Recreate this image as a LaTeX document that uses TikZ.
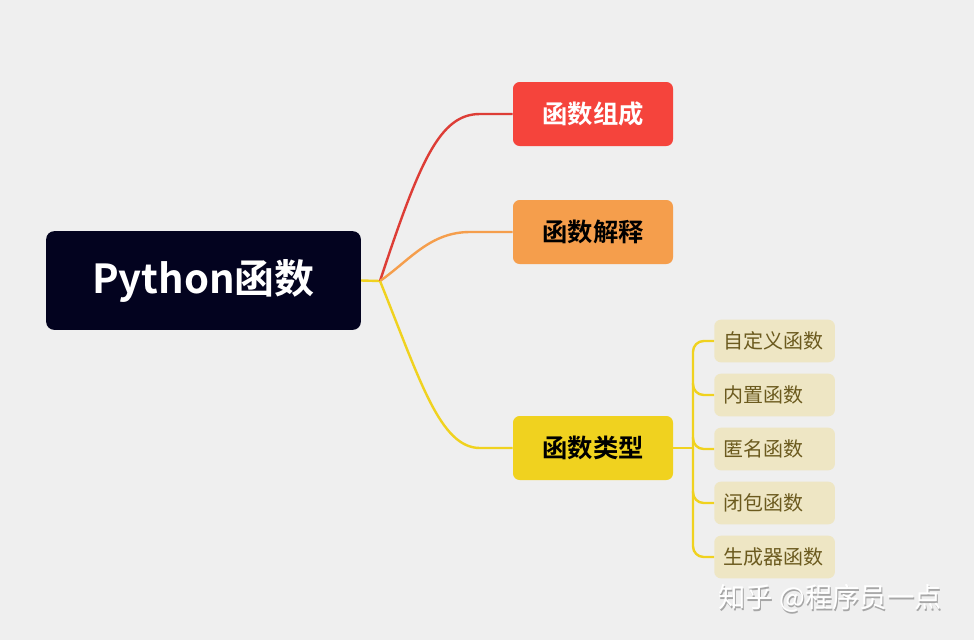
\documentclass[tikz,border=0pt]{standalone}
\usepackage{fontspec}
\setmainfont{Noto Sans CJK SC}[BoldFont={Noto Sans CJK SC Bold}]
\definecolor{bg}{HTML}{EFEFEF}
\definecolor{rootc}{HTML}{03031F}
\definecolor{redc}{HTML}{F5443C}
\definecolor{orc}{HTML}{F59E4C}
\definecolor{yelc}{HTML}{F0D21F}
\definecolor{subc}{HTML}{EEE6C4}
\definecolor{subt}{HTML}{6B5A1E}
\begin{document}
\begin{tikzpicture}[x=0.75pt,y=-0.75pt,
  box/.style={rounded corners=5pt,minimum width=120pt,minimum height=48pt,inner sep=0pt,font=\bfseries\fontsize{19}{22}\selectfont},
  sub/.style={rounded corners=5pt,fill=subc,text=subt,text width=77pt,align=left,inner xsep=6.75pt,minimum height=32pt,inner ysep=0pt,font=\fontsize{15}{18}\selectfont},
  link/.style={line width=1.8pt}]
\fill[bg] (0,0) rectangle (974,640);
\useasboundingbox (0,0) rectangle (974,640);
\node[rounded corners=6pt,fill=rootc,text=white,minimum width=236pt,minimum height=74pt,inner sep=0pt,font=\bfseries\fontsize{30}{34}\selectfont] (root) at (203.5,280.5) {Python函数};
\node[box,fill=redc,text=white] (a) at (593,114) {函数组成};
\node[box,fill=orc] (b) at (593,232) {函数解释};
\node[box,fill=yelc] (c) at (593,448) {函数类型};
\coordinate (j) at (380,281);
\draw[link,yelc] (root.east) -- (j);
\draw[link,redc!90!black] (j) .. controls (420,160) and (440,114) .. (480,114) -- (a.west);
\draw[link,orc] (j) .. controls (410,260) and (430,232) .. (470,232) -- (b.west);
\draw[link,yelc] (j) .. controls (420,380) and (440,448) .. (480,448) -- (c.west);
\coordinate (k) at (693,448);
\draw[link,yelc] (c.east) -- (k);
\foreach \n/\y/\t in {s1/341/自定义函数,s2/395/内置函数,s3/449/匿名函数,s4/503/闭包函数,s5/557/生成器函数}{
  \node[sub,anchor=west] (\n) at (714,\y) {\t};
}
\draw[link,yelc,rounded corners=8pt] (s1.west) -| (k) |- (s5.west);
\foreach \n in {s2,s3,s4}{\draw[link,yelc,rounded corners=8pt] (k |- \n.west) ++(0,-12) |- (\n.west);}
\node[text=gray!70,font=\fontsize{20.5}{24}\selectfont] (wm0) at (831,600) {知乎 @程序员一点};
\node[text=white,font=\fontsize{20.5}{24}\selectfont] (wm) at (830,598.5) {知乎 @程序员一点};
\end{tikzpicture}
\end{document}
